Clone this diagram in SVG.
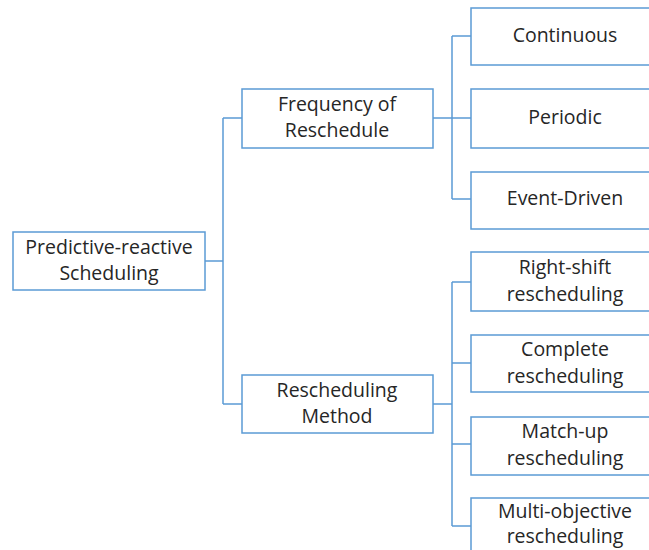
<svg xmlns="http://www.w3.org/2000/svg" width="649" height="550" viewBox="0 0 649 550">
<style>
.box{fill:#fff;stroke:#5b9bd5;stroke-width:1.5}
.c{fill:none;stroke:#5b9bd5;stroke-width:1.5}
text{font-family:"Open Sans","Liberation Sans",sans-serif;font-size:19.5px;fill:#262626;text-anchor:middle}
</style>
<rect width="649" height="550" fill="#fff"/>
<g id="connectors">
<path class="c" d="M205,261H223M223,118V404M223,118H242M223,404H242"/>
<path class="c" d="M433,118H452M452,36V199M452,36H471M452,118H471M452,199H471"/>
<path class="c" d="M433,404H452M452,282V526M452,282H471M452,363H471M452,444H471M452,526H471"/>
</g>
<g id="root"><rect class="box" x="13" y="232" width="192" height="58"/><text x="109" y="254">Predictive-reactive</text><text x="109" y="280">Scheduling</text></g>
<g id="frequency"><rect class="box" x="242" y="89" width="191" height="59"/><text x="337" y="111">Frequency of</text><text x="337" y="137">Reschedule</text></g>
<g id="method"><rect class="box" x="242" y="375" width="191" height="58"/><text x="337" y="397">Rescheduling</text><text x="337" y="423">Method</text></g>
<g id="continuous"><rect class="box" x="471" y="8" width="190" height="57"/><text x="565" y="42">Continuous</text></g>
<g id="periodic"><rect class="box" x="471" y="89" width="190" height="59"/><text x="565" y="124">Periodic</text></g>
<g id="event"><rect class="box" x="471" y="172" width="190" height="57"/><text x="565" y="205">Event-Driven</text></g>
<g id="rightshift"><rect class="box" x="471" y="252" width="190" height="59"/><text x="565" y="274">Right-shift</text><text x="565" y="301">rescheduling</text></g>
<g id="complete"><rect class="box" x="471" y="335" width="190" height="57"/><text x="565" y="356">Complete</text><text x="565" y="383">rescheduling</text></g>
<g id="matchup"><rect class="box" x="471" y="417" width="190" height="58"/><text x="565" y="438">Match-up</text><text x="565" y="465">rescheduling</text></g>
<g id="multi"><rect class="box" x="471" y="498" width="190" height="70"/><text x="565" y="518">Multi-objective</text><text x="565" y="543">rescheduling</text></g>
</svg>
